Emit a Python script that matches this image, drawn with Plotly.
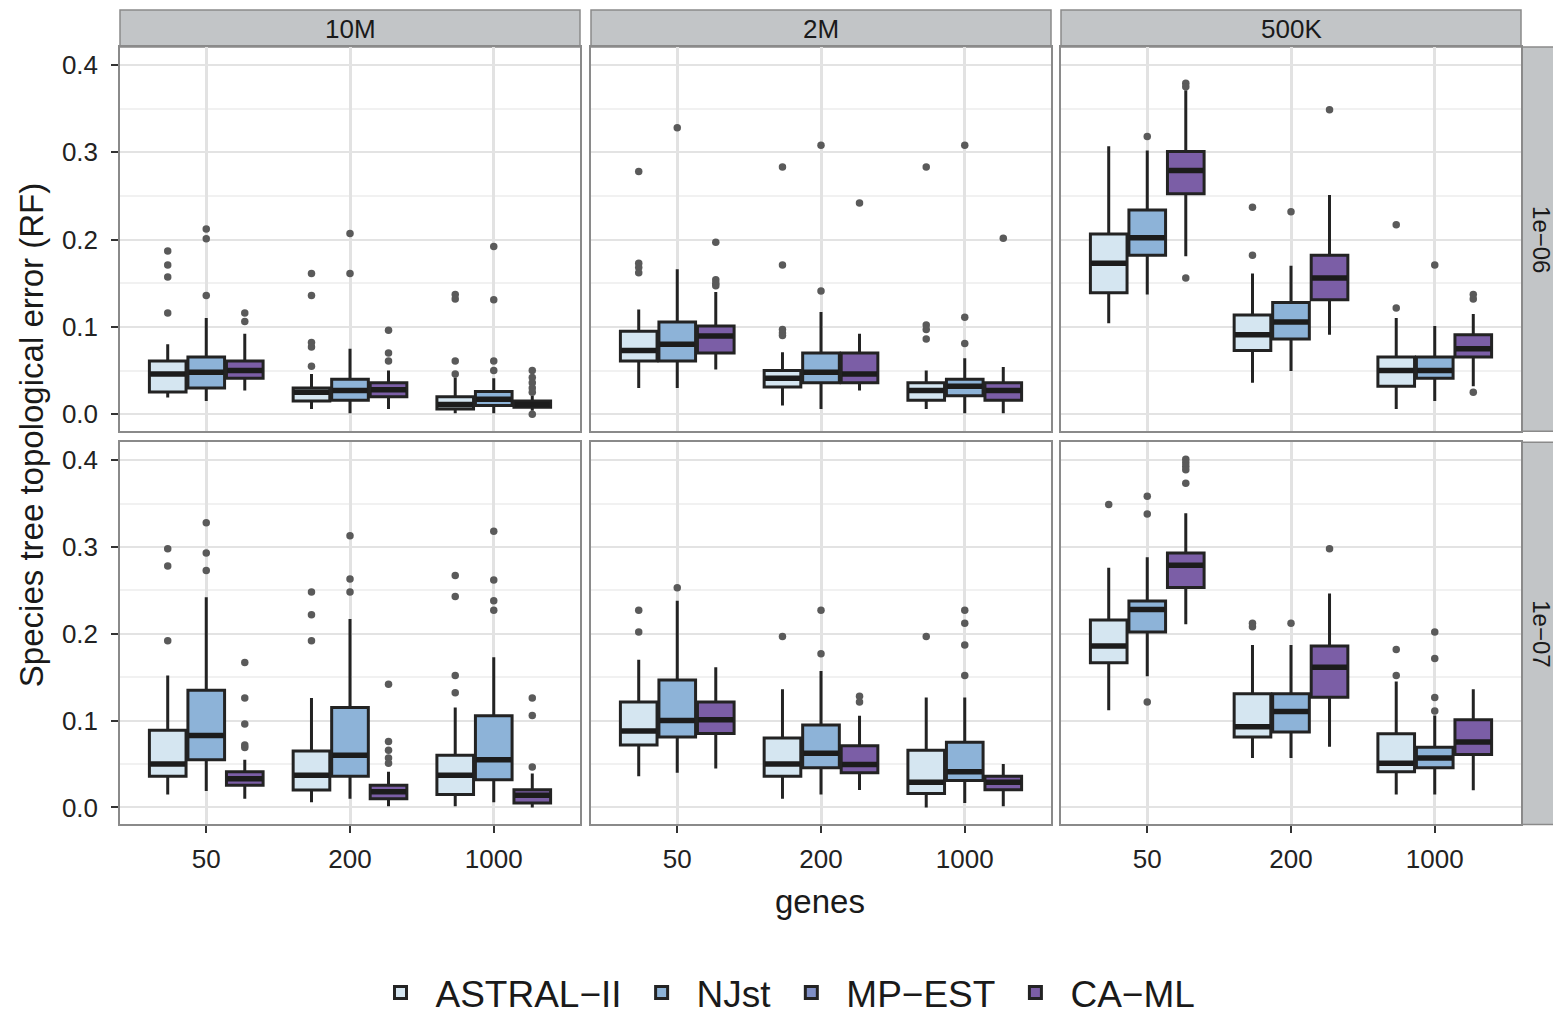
import plotly.graph_objects as go

# page body has an 8px margin, so the figure is laid out in page pixels minus 8
OFF = 8
W, H = 1553, 1016

COLUMNS = ["10M", "2M", "500K"]
ROWS = ["1e\u221206", "1e\u221207"]
GENES = ["50", "200", "1000"]
METHODS = ["ASTRAL\u2212II", "NJst", "MP\u2212EST", "CA\u2212ML"]
COLORS = ["#d5e6f1", "#8db3d8", "#7f8fc6", "#7b5ea6"]

# order: row1 (10M g50,g200,g1000, 2M ..., 500K ...), row2 (same)
ASTRAL_LO = [0.019, 0.006, 0.001, 0.030, 0.010, 0.006, 0.104, 0.036, 0.006,
             0.015, 0.006, 0.0015, 0.036, 0.010, 0.0, 0.112, 0.057, 0.015]
ASTRAL_Q1 = [0.0255, 0.015, 0.006, 0.061, 0.031, 0.016, 0.139, 0.073, 0.032,
             0.036, 0.020, 0.015, 0.072, 0.036, 0.016, 0.1665, 0.081, 0.041]
ASTRAL_MED = [0.046, 0.025, 0.011, 0.073, 0.041, 0.027, 0.173, 0.091, 0.050,
              0.050, 0.037, 0.037, 0.088, 0.050, 0.029, 0.186, 0.093, 0.051]
ASTRAL_Q3 = [0.061, 0.030, 0.020, 0.095, 0.050, 0.036, 0.2065, 0.1135, 0.0655,
             0.089, 0.065, 0.060, 0.1215, 0.080, 0.066, 0.216, 0.131, 0.085]
ASTRAL_HI = [0.080, 0.046, 0.042, 0.120, 0.071, 0.050, 0.307, 0.161, 0.110,
             0.152, 0.126, 0.115, 0.170, 0.136, 0.1265, 0.276, 0.187, 0.145]
ASTRAL_OUT = [[0.187, 0.171, 0.157, 0.116], [0.161, 0.136, 0.082, 0.077, 0.055], [0.137, 0.132, 0.061, 0.046],
              [0.278, 0.173, 0.168, 0.162], [0.283, 0.171, 0.097, 0.093, 0.090], [0.283, 0.102, 0.097, 0.086],
              [], [0.237, 0.182], [0.217, 0.1215],
              [0.298, 0.278, 0.192], [0.248, 0.222, 0.192], [0.267, 0.243, 0.152, 0.132],
              [0.227, 0.202], [0.197], [0.197],
              [0.349], [0.212, 0.208], [0.182, 0.152]]

NJST_LO = [0.015, 0.001, 0.001, 0.030, 0.006, 0.001, 0.137, 0.0495, 0.015,
           0.019, 0.010, 0.006, 0.040, 0.015, 0.005, 0.151, 0.057, 0.015]
NJST_Q1 = [0.030, 0.016, 0.010, 0.061, 0.036, 0.021, 0.182, 0.086, 0.041,
           0.055, 0.036, 0.032, 0.081, 0.0457, 0.031, 0.202, 0.087, 0.0457]
NJST_MED = [0.048, 0.027, 0.017, 0.080, 0.048, 0.032, 0.202, 0.1055, 0.050,
            0.083, 0.060, 0.055, 0.100, 0.0625, 0.041, 0.228, 0.1105, 0.057]
NJST_Q3 = [0.0655, 0.040, 0.026, 0.1055, 0.070, 0.040, 0.234, 0.128, 0.0655,
           0.135, 0.115, 0.1055, 0.1467, 0.095, 0.075, 0.2377, 0.131, 0.0693]
NJST_HI = [0.110, 0.075, 0.041, 0.166, 0.117, 0.064, 0.302, 0.170, 0.101,
           0.242, 0.217, 0.173, 0.238, 0.157, 0.1265, 0.288, 0.187, 0.106]
NJST_OUT = [[0.212, 0.201, 0.136], [0.207, 0.161], [0.192, 0.131, 0.061, 0.050],
            [0.328], [0.308, 0.141], [0.308, 0.111, 0.081],
            [0.318], [0.232], [0.171],
            [0.328, 0.293, 0.273], [0.313, 0.263, 0.248], [0.318, 0.262, 0.238, 0.227],
            [0.253], [0.227, 0.177], [0.227, 0.212, 0.187, 0.152],
            [0.3585, 0.338, 0.1215], [0.212], [0.202, 0.1714, 0.1265, 0.111]]

CAML_LO = [0.027, 0.006, 0.004, 0.051, 0.027, 0.001, 0.181, 0.091, 0.032,
           0.010, 0.0015, 0.0, 0.045, 0.020, 0.0015, 0.211, 0.070, 0.0198]
CAML_Q1 = [0.041, 0.020, 0.008, 0.070, 0.036, 0.016, 0.2526, 0.131, 0.0655,
           0.0255, 0.010, 0.005, 0.0853, 0.040, 0.0205, 0.2533, 0.127, 0.061]
CAML_MED = [0.050, 0.028, 0.011, 0.0895, 0.046, 0.027, 0.279, 0.156, 0.075,
            0.033, 0.018, 0.014, 0.101, 0.0495, 0.029, 0.279, 0.1615, 0.0754]
CAML_Q3 = [0.061, 0.036, 0.015, 0.101, 0.070, 0.036, 0.301, 0.182, 0.091,
           0.041, 0.0255, 0.0205, 0.1215, 0.0712, 0.036, 0.293, 0.186, 0.101]
CAML_HI = [0.092, 0.050, 0.021, 0.140, 0.092, 0.054, 0.371, 0.251, 0.1147,
           0.055, 0.041, 0.039, 0.1615, 0.1055, 0.050, 0.3387, 0.2465, 0.136]
CAML_OUT = [[0.116, 0.106], [0.096, 0.070, 0.061], [0.050, 0.042, 0.036, 0.030, 0.025, 0.0],
            [0.197, 0.154, 0.150, 0.147], [0.242], [0.2015],
            [0.379, 0.375, 0.156], [0.3486], [0.137, 0.132, 0.025],
            [0.167, 0.126, 0.096, 0.072, 0.069], [0.142, 0.076, 0.066, 0.057, 0.051], [0.126, 0.106, 0.0465],
            [], [0.128, 0.1215], [],
            [0.401, 0.397, 0.393, 0.389, 0.3733], [0.298], []]

# MP-EST has no boxes in the figure, only a legend entry
SERIES = [
    (0, -0.268, ASTRAL_LO, ASTRAL_Q1, ASTRAL_MED, ASTRAL_Q3, ASTRAL_HI, ASTRAL_OUT),
    (1, 0.0, NJST_LO, NJST_Q1, NJST_MED, NJST_Q3, NJST_HI, NJST_OUT),
    (3, 0.268, CAML_LO, CAML_Q1, CAML_MED, CAML_Q3, CAML_HI, CAML_OUT),
]
BOX_W = 0.255

FONT = "Liberation Sans, Arial, Helvetica, sans-serif"
COL_PX = [(120, 580), (591, 1051), (1061, 1521)]
ROW_PX = [(47, 432), (443, 826)]


def px_x(p):
    return (p - OFF) / W


def px_y(p):
    return 1 - (p - OFF) / H


fig = go.Figure()
LINE = "#232323"

for r in range(2):
    for c in range(3):
        k = r * 3 + c + 1
        xa = "x" if k == 1 else f"x{k}"
        ya = "y" if k == 1 else f"y{k}"
        for (mi, off, lo, q1, med, q3, hi, out) in SERIES:
            name = METHODS[mi]
            idx = [r * 9 + c * 3 + g for g in range(3)]
            xs = [g + 1 + off for g in range(3)]
            fig.add_trace(go.Box(
                x=xs, q1=[q1[i] for i in idx], median=[med[i] for i in idx],
                q3=[q3[i] for i in idx], lowerfence=[lo[i] for i in idx],
                upperfence=[hi[i] for i in idx], boxpoints=False,
                width=BOX_W, whiskerwidth=0, fillcolor=COLORS[mi],
                line=dict(color=LINE, width=3), name=name,
                legendgroup=name, showlegend=(k == 1), legendrank=mi + 1,
                xaxis=xa, yaxis=ya, hoverinfo="skip"))
            # thick median bars (ggplot style)
            mx, my = [], []
            for g in range(3):
                mx += [xs[g] - BOX_W / 2 + 0.006, xs[g] + BOX_W / 2 - 0.006, None]
                my += [med[idx[g]], med[idx[g]], None]
            fig.add_trace(go.Scatter(
                x=mx, y=my, mode="lines", line=dict(color="#1c1c1c", width=5.5),
                showlegend=False, xaxis=xa, yaxis=ya, hoverinfo="skip"))
            ox, oy = [], []
            for g in range(3):
                for v in out[idx[g]]:
                    ox.append(xs[g])
                    oy.append(v)
            fig.add_trace(go.Scatter(
                x=ox, y=oy, mode="markers",
                marker=dict(color="#5a5a5a", size=7.5), showlegend=False,
                xaxis=xa, yaxis=ya, hoverinfo="skip"))
        if k == 1:
            fig.add_trace(go.Box(
                x=[None], q1=[None], median=[None], q3=[None], lowerfence=[None],
                upperfence=[None], name=METHODS[2], fillcolor=COLORS[2],
                line=dict(color=LINE, width=3), legendgroup=METHODS[2],
                showlegend=True, legendrank=3, xaxis=xa, yaxis=ya, boxpoints=False))

layout = dict(
    width=W, height=H, autosize=False,
    margin=dict(l=0, r=0, t=0, b=0),
    paper_bgcolor="white", plot_bgcolor="white",
    font=dict(family=FONT, color="#1a1a1a"),
    showlegend=True,
    legend=dict(orientation="h", x=px_x(783), xanchor="center", y=px_y(995), yanchor="middle",
                font=dict(size=37, family=FONT, color="#1a1a1a"), itemwidth=60,
                bgcolor="rgba(0,0,0,0)"),
)

shapes = []
annotations = []
TICKFONT = dict(size=26, color="#222222", family=FONT)
for r in range(2):
    for c in range(3):
        k = r * 3 + c + 1
        xk = "xaxis" if k == 1 else f"xaxis{k}"
        yk = "yaxis" if k == 1 else f"yaxis{k}"
        xa_anchor = "y" if k == 1 else f"y{k}"
        ya_anchor = "x" if k == 1 else f"x{k}"
        x0, x1 = COL_PX[c]
        y0, y1 = ROW_PX[r]
        layout[xk] = dict(
            domain=[px_x(x0), px_x(x1)], anchor=xa_anchor, range=[0.4, 3.6],
            tickmode="array", tickvals=[1, 2, 3], ticktext=GENES,
            showgrid=True, gridcolor="#e2e2e2", gridwidth=2.5, zeroline=False,
            showline=True, mirror=True, linecolor="#8a8a8a", linewidth=1.5,
            ticks="outside" if r == 1 else "", ticklen=7, tickwidth=2, tickcolor="#333333",
            showticklabels=(r == 1), tickfont=TICKFONT, ticklabelstandoff=4,
        )
        layout[yk] = dict(
            domain=[px_y(y1), px_y(y0)], anchor=ya_anchor, range=[-0.0195, 0.4207],
            tickmode="array", tickvals=[0, 0.1, 0.2, 0.3, 0.4],
            ticktext=["0.0", "0.1", "0.2", "0.3", "0.4"],
            showgrid=True, gridcolor="#e3e3e3", gridwidth=2, zeroline=False,
            minor=dict(tickmode="array", tickvals=[0.05, 0.15, 0.25, 0.35], showgrid=True,
                       gridcolor="#f1f1f1", gridwidth=2, ticks=""),
            showline=True, mirror=True, linecolor="#8a8a8a", linewidth=1.5,
            ticks="outside" if c == 0 else "", ticklen=7, tickwidth=2, tickcolor="#333333",
            showticklabels=(c == 0), tickfont=TICKFONT, ticklabelstandoff=8,
        )

# top strips
for c, lab in enumerate(COLUMNS):
    x0, x1 = COL_PX[c]
    shapes.append(dict(type="rect", xref="paper", yref="paper",
                       x0=px_x(x0), x1=px_x(x1), y0=px_y(47), y1=px_y(10),
                       fillcolor="#c2c5c7", line=dict(color="#8a8a8a", width=1.5), layer="below"))
    annotations.append(dict(text=lab, xref="paper", yref="paper", x=px_x((x0 + x1) / 2),
                            y=px_y(29), showarrow=False, xanchor="center", yanchor="middle",
                            font=dict(size=26, color="#1a1a1a", family=FONT)))
# right strips
for r, lab in enumerate(ROWS):
    y0, y1 = ROW_PX[r]
    shapes.append(dict(type="rect", xref="paper", yref="paper",
                       x0=px_x(1522), x1=px_x(1562), y0=px_y(y1), y1=px_y(y0),
                       fillcolor="#c2c5c7", line=dict(color="#8a8a8a", width=1.5), layer="below"))
    annotations.append(dict(text=lab, xref="paper", yref="paper", x=px_x(1542),
                            y=px_y((y0 + y1) / 2), showarrow=False, textangle=90,
                            xanchor="center", yanchor="middle",
                            font=dict(size=24, color="#1a1a1a", family=FONT)))

annotations.append(dict(text="genes", xref="paper", yref="paper", x=px_x(820), y=px_y(903),
                        showarrow=False, xanchor="center", yanchor="middle",
                        font=dict(size=33, color="#1a1a1a", family=FONT)))
annotations.append(dict(text="Species tree topological error (RF)", xref="paper", yref="paper",
                        x=px_x(31), y=px_y(436), showarrow=False, textangle=-90,
                        xanchor="center", yanchor="middle",
                        font=dict(size=33, color="#1a1a1a", family=FONT)))

layout["shapes"] = shapes
layout["annotations"] = annotations
fig.update_layout(**layout)
fig.write_html("out.html")
